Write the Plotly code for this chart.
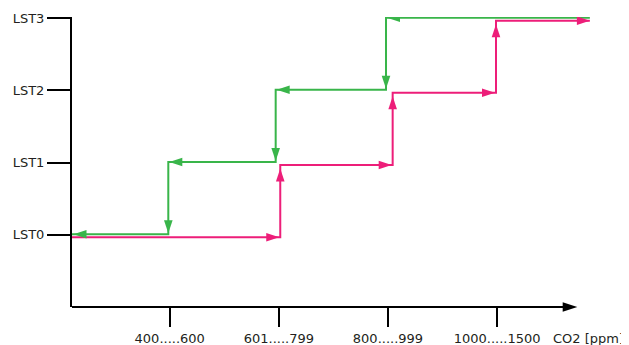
import plotly.graph_objects as go

# ---------------- data ----------------
levels = [0, 1, 2, 3]
level_labels = ["LST0", "LST1", "LST2", "LST3"]
tick_x = [1, 2, 3, 4]
tick_labels = ["400.....600", "601.....799", "800.....999", "1000.....1500"]
x_title = "CO2 [ppm]"

# switching points (x in tick units)
rise_x = [2.013, 3.043, 3.990]   # red path, rising CO2: LST0->1, LST1->2, LST2->3
fall_x = [2.982, 1.971, 0.987]   # green path, falling CO2: LST3->2, LST2->1, LST1->0
x_min = 0.1045                   # axis origin
x_end = 4.85                     # right end of both paths
x_axis_end = 4.735               # tip of the x-axis arrow

# ---------------- style ----------------
GREEN = "#39B54A"
RED = "#ED1E79"
FONT = dict(family="DejaVu Sans", size=13, color="#231F20")
PAGE = 8                          # default body margin of the html page
W, H = 629 - PAGE, 345 - PAGE
ML, MR, MT, MB = 72 - PAGE, 29, 17 - PAGE, 38
x_max = 4.943
y_min, y_max = -1, 3.017
plot_w = W - ML - MR
plot_h = H - MT - MB
sx = plot_w / (x_max - x_min)   # px per x unit
sy = plot_h / (y_max - y_min)   # px per level
green_off = 0.6 / sy
red_off = -2.4 / sy
ARR_L, ARR_W = 13, 4.3


def tri(tip_x, tip_y, dx, dy, L=ARR_L, hw=ARR_W, yscale=None):
    """triangle path, tip in data coords, direction (dx, dy) in screen px (dy up)"""
    ys = sy if yscale is None else yscale
    bx, by = -dx * L, -dy * L
    nx, ny = -dy * hw, dx * hw
    pts = [(0, 0), (bx + nx, by + ny), (bx - nx, by - ny)]
    s = ""
    for i, (px, py) in enumerate(pts):
        s += ("M" if i == 0 else "L") + f"{tip_x + px / sx},{tip_y + py / ys} "
    return s + "Z"


# red path (rising)
rx, ry = [x_min], [0]
for i, xr in enumerate(rise_x):
    rx += [xr, xr]
    ry += [levels[i], levels[i + 1]]
rx.append(x_end)
ry.append(levels[-1])
ry = [v + red_off for v in ry]

# green path (falling)
gx, gy = [x_end], [levels[-1]]
for i, xf in enumerate(fall_x):
    lv = levels[-1 - i]
    gx += [xf, xf]
    gy += [lv, lv - 1]
gx.append(x_min)
gy.append(levels[0])
gy = [v + green_off for v in gy]

fig = go.Figure()
fig.add_trace(go.Scatter(x=rx, y=ry, mode="lines", line=dict(color=RED, width=2),
                         hoverinfo="skip", showlegend=False))
fig.add_trace(go.Scatter(x=gx, y=gy, mode="lines", line=dict(color=GREEN, width=2),
                         hoverinfo="skip", showlegend=False))

shapes = []
# red arrowheads
for i, xr in enumerate(rise_x):
    shapes.append(tri(xr - 1 / sx, levels[i] + red_off, 1, 0) + "|" + RED)
    shapes.append(tri(xr, levels[i + 1] + red_off - 3.5 / sy, 0, 1) + "|" + RED)
shapes.append(tri(x_end, levels[-1] + red_off, 1, 0) + "|" + RED)
# green arrowheads
for i, xf in enumerate(fall_x):
    lv = levels[-1 - i]
    shapes.append(tri(xf + 1 / sx, lv + green_off, -1, 0) + "|" + GREEN)
    shapes.append(tri(xf, lv - 1 + green_off + 1 / sy, 0, -1) + "|" + GREEN)
shapes.append(tri(x_min + 1.5 / sx, levels[0] + green_off, -1, 0) + "|" + GREEN)

for s in shapes:
    path, col = s.split("|")
    fig.add_shape(type="path", path=path, xref="x", yref="y",
                  fillcolor=col, line=dict(width=0), layer="above")

# x-axis line with arrow
AX_L, AX_W = 14.6, 4.8
fig.add_shape(type="line", xref="x", yref="paper", x0=x_min - 2 / sx, x1=x_axis_end - AX_L / sx + 1 / sx,
              y0=0, y1=0, line=dict(color="#000000", width=2))
fig.add_shape(type="path", xref="x", yref="paper",
              path=tri(x_axis_end, 0, 1, 0, L=AX_L, hw=AX_W, yscale=plot_h),
              fillcolor="#000000", line=dict(width=0))

fig.add_annotation(x=1, xref="paper", y=0, yref="paper", text=x_title,
                   showarrow=False, xanchor="right", yanchor="middle",
                   xshift=26, yshift=-31, font=FONT)

fig.update_layout(
    width=W, height=H,
    margin=dict(l=ML, r=MR, t=MT, b=MB, pad=0, autoexpand=False),
    paper_bgcolor="white", plot_bgcolor="white",
    font=FONT,
    xaxis=dict(range=[x_min, x_max], showgrid=False, zeroline=False, showline=False,
               automargin=False,
               tickvals=tick_x, ticktext=tick_labels, ticks="outside", ticklen=19,
               tickwidth=2, tickcolor="#000000", tickfont=FONT, fixedrange=True),
    yaxis=dict(range=[y_min, y_max], showgrid=False, zeroline=False, showline=True,
               automargin=False,
               linecolor="#000000", linewidth=2,
               tickvals=levels, ticktext=level_labels, ticks="outside", ticklen=23,
               tickwidth=2, tickcolor="#000000", tickfont=FONT, fixedrange=True),
    hovermode=False,
)

fig.write_html("out.html", config={"displayModeBar": False})
